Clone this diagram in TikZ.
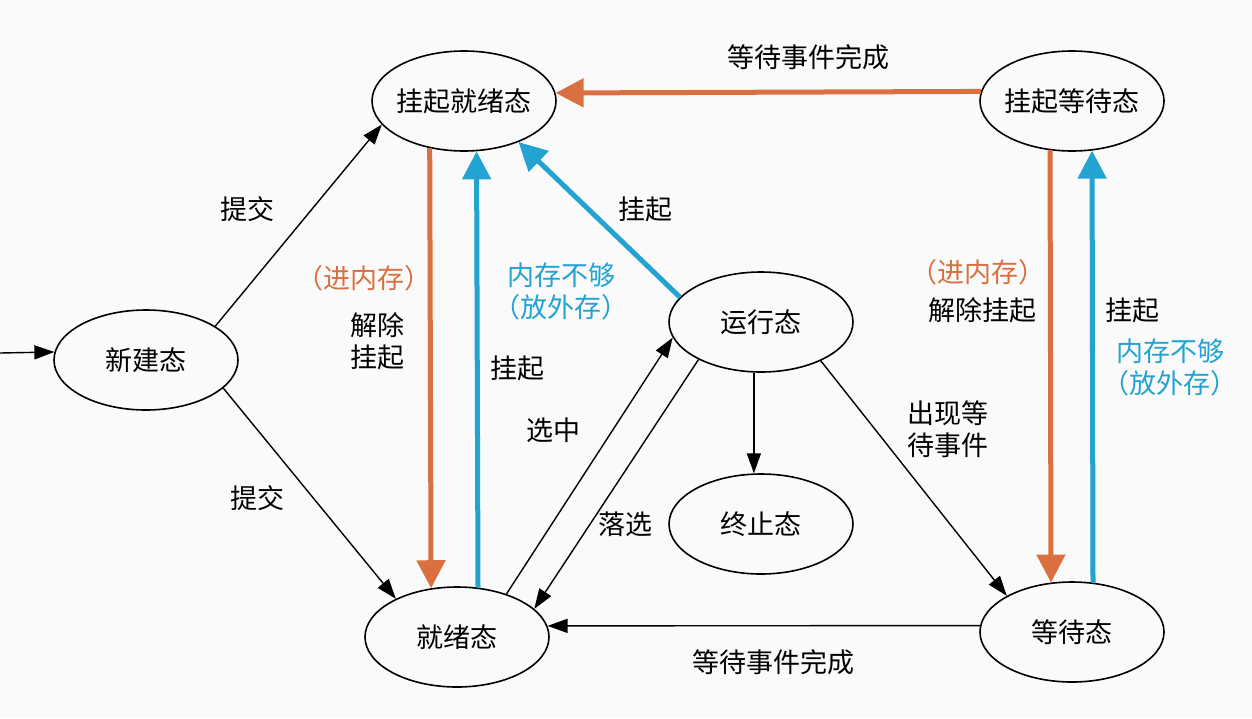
\documentclass[tikz,border=0pt]{standalone}
\usepackage{fontspec}
\setmainfont{Noto Sans CJK SC}
\usetikzlibrary{shapes.geometric,arrows.meta}
\definecolor{bg}{HTML}{FAFAFA}
\definecolor{org}{HTML}{DA703F}
\definecolor{blu}{HTML}{22A3D2}
\newcommand{\zw}[1]{\makebox[0pt]{#1}}
\begin{document}
\begin{tikzpicture}[x=1pt,y=-1pt,
  font=\fontsize{27}{32}\selectfont,
  st/.style={ellipse,draw,line width=1.6pt,minimum width=184pt,minimum height=100pt,inner sep=0pt,fill=bg},
  thn/.style={line width=1.4pt,-{Triangle[length=20pt,width=14pt]}},
  thk/.style={line width=5pt,-{Triangle[length=28pt,width=28pt]}},
  lbl/.style={align=center,inner sep=0pt}]
\fill[bg] (0,0) rectangle (1252,718);
\useasboundingbox (0,0) rectangle (1252,718);

\node[st] (sr) at (464,101) {\zw{挂起就绪态}};
\node[st] (sw) at (1072,101) {\zw{挂起等待态}};
\node[st] (new) at (146,360) {\zw{新建态}};
\node[st] (run) at (761,322) {\zw{运行态}};
\node[st] (term) at (761,524) {\zw{终止态}};
\node[st] (ready) at (457,637) {\zw{就绪态}};
\node[st] (wait) at (1072,632) {\zw{等待态}};

\coordinate (in) at (0,353);
\draw[thn] (in) -- (new.175.6);
\draw[thn] (new.26.9) -- (sr.196.5);
\draw[thn] (new.340.9) -- (ready.148.9);
\draw[thk,org] (sr.234.8) -- (ready.118.5);
\draw[thk,blu] (ready.67.7) -- (sr.284.7);
\draw[thk,blu] (run.163.6) -- (sr.323.3);
\draw[thk,org] (sw.174.3) -- (sr.5.7);
\draw[thk,org] (sw.246.6) -- (wait.113.35);
\draw[thk,blu] (wait.67.7) -- (sw.292.3);
\draw[thn] (ready.41.3) -- (run.190.3);
\draw[thn] (run.211.5) -- (ready.20.2);
\draw[thn] (run.262) -- (term.98);
\draw[thn] (run.327.7) -- (wait.151.4);
\draw[thn] (wait.176.2) -- (ready.7);

\node[lbl] (t1) at (808,57) {等待事件完成};
\node[lbl] (t2) at (247,209) {提交};
\node[lbl] (t3) at (257,498) {提交};
\node[lbl,text=org] (t4) at (364,278) {（进内存）};
\node[lbl] (t5) at (377,341) {解除\\挂起};
\node[lbl,text=blu] (t6) at (561,291) {内存不够\\（放外存）};
\node[lbl] (t7) at (517,368) {挂起};
\node[lbl] (t8) at (645,209) {挂起};
\node[lbl] (t9) at (553,430) {选中};
\node[lbl] (t10) at (625,524) {落选};
\node[lbl] (t11) at (948,429) {出现等\\待事件};
\node[lbl] (t12) at (773,662) {等待事件完成};
\node[lbl,text=org] (t13) at (978,272) {（进内存）};
\node[lbl] (t14) at (982,310) {解除挂起};
\node[lbl] (t15) at (1132,310) {挂起};
\node[lbl,text=blu] (t16) at (1170,367) {内存不够\\（放外存）};
\end{tikzpicture}
\end{document}
